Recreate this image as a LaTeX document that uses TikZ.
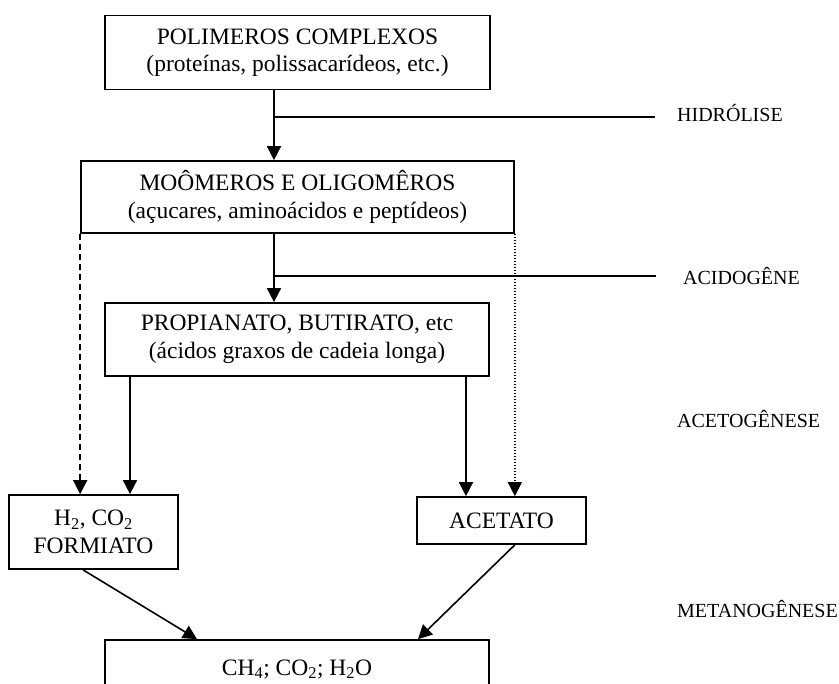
\documentclass[tikz,border=0pt]{standalone}
\usepackage{fontspec}
\setmainfont{Liberation Serif}
\usetikzlibrary{arrows.meta}
\begin{document}
\begin{tikzpicture}[x=1pt,y=-1pt,
 box/.style={draw,line width=1.7pt,inner sep=0pt,align=center,font=\fontsize{23.5}{27.5}\selectfont},
 btxt/.style={inner sep=0pt,align=center,font=\fontsize{23.5}{27.5}\selectfont},
 arr/.style={line width=1.6pt,-{Triangle[length=14pt,width=14pt]}},
 ln/.style={line width=1.6pt},
 lbl/.style={anchor=base west,inner sep=0pt,font=\fontsize{20}{24}\selectfont}]
\useasboundingbox (0,0) rectangle (839,684);
% boxes
\node[box,minimum width=385pt,minimum height=74pt] (p1) at (297.5,52.5) {POLIMEROS COMPLEXOS\\(proteínas, polissacarídeos, etc.)};
\node[box,minimum width=433pt,minimum height=72pt] (p2) at (297.5,197) {MOÔMEROS E OLIGOMÊROS\\(açucares, aminoácidos e peptídeos)};
\node[box,minimum width=384pt,minimum height=73pt] (p3) at (297,339.5) {PROPIANATO, BUTIRATO, etc\\(ácidos graxos de cadeia longa)};
\node[box,minimum width=169pt,minimum height=74pt] (h2) at (93.5,532) {H\textsubscript{2}, CO\textsubscript{2}\\FORMIATO};
\node[box,minimum width=169pt,minimum height=47pt] (ac) at (501.5,520.5) {ACETATO};
\node[box,minimum width=384pt,minimum height=80pt] (out) at (297,680) {};
\node[btxt,anchor=base] (outt) at (297,675) {CH\textsubscript{4}; CO\textsubscript{2}; H\textsubscript{2}O};
% guide coordinates
\coordinate (c1) at (274,0);
\coordinate (c2) at (130,0);
\coordinate (c3) at (466,0);
\coordinate (c4) at (83,0);
\coordinate (c5) at (197,0);
\coordinate (c6) at (418,0);
% stage lines
\coordinate (h1s) at (274,117);
\coordinate (h1e) at (655,117);
\coordinate (h2s) at (274,276);
\coordinate (h2e) at (656,276);
\draw[ln] (h1s) -- (h1e);
\draw[ln] (h2s) -- (h2e);
% labels
\node[lbl] (lhid) at (677,122) {HIDRÓLISE};
\node[lbl] (lacid) at (683,285) {ACIDOGÊNE};
\node[lbl] (laceto) at (677,428) {ACETOGÊNESE};
\node[lbl] (lmet) at (677,618) {METANOGÊNESE};
% arrows
\draw[arr] (p1.south -| c1) -- (p2.north -| c1);
\draw[arr] (p2.south -| c1) -- (p3.north -| c1);
\draw[arr,dash pattern=on 6pt off 4pt] (p2.south west) -- (h2.north -| p2.south west);
\draw[arr,line width=1.3pt,dash pattern=on 1.5pt off 1.5pt] (p2.south east) -- (ac.north -| p2.south east);
\draw[arr] (p3.south -| c2) -- (h2.north -| c2);
\draw[arr] (p3.south -| c3) -- (ac.north -| c3);
\draw[arr] (h2.south -| c4) -- (out.north -| c5);
\draw[arr] (ac.south -| p2.south east) -- (out.north -| c6);
\end{tikzpicture}
\end{document}
